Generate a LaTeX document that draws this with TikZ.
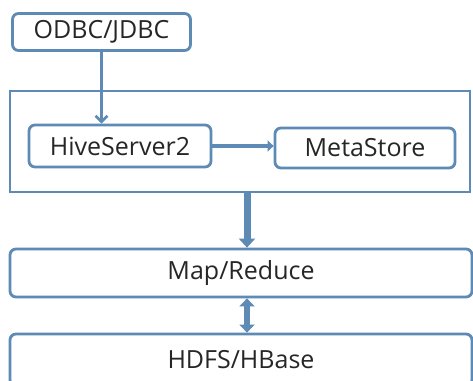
\documentclass[tikz,border=0pt]{standalone}
\usepackage{fontspec}
\setmainfont{Open Sans}
\usetikzlibrary{arrows.meta}
\definecolor{hiveBlue}{HTML}{5E8AB6}

\begin{document}
\begin{tikzpicture}[x=1pt, y=-1pt,
    block/.style={draw=hiveBlue, line width=2.8pt, rounded corners=6pt, fill=white,
        inner sep=0pt, text=black!85, font=\fontsize{25}{29}\selectfont},
    frame/.style={draw=hiveBlue, line width=2pt},
    link/.style={draw=hiveBlue, line width=2.6pt, -{Straight Barb[length=6pt, width=12pt]}},
    flow/.style={draw=hiveBlue, line width=4.5pt, -{Triangle[length=6pt, width=11pt]}},
    bigflow/.style={draw=hiveBlue, line width=7pt, -{Triangle[length=9pt, width=16pt]}},
    bothflow/.style={draw=hiveBlue, line width=6.5pt,
        {Triangle[length=8pt, width=15pt]}-{Triangle[length=8pt, width=15pt]}}]
    \useasboundingbox (0,0) rectangle (473,380);
    \clip (0,0) rectangle (473,380);
    \fill[white] (0,0) rectangle (473,380);
    % client and server
    \node[block, minimum width=178, minimum height=37] (odbc) at (101.5,32) {ODBC/JDBC};
    \node[frame, minimum width=460, minimum height=101] (server) at (240,141.5) {};
    \node[block, minimum width=182, minimum height=42] (hive) at (120,146) {HiveServer2};
    \node[block, minimum width=180, minimum height=40] (meta) at (365,148) {MetaStore};
    % execution and storage
    \node[block, minimum width=462, minimum height=48] (mapred) at (241,273) {Map/Reduce};
    \node[block, minimum width=462, minimum height=52] (hdfs) at (241,360) {HDFS/HBase};
    % arrows
    \draw[link] (odbc.south) -- (odbc.south |- hive.north);
    \draw[flow] (hive.east) -- (hive.east -| meta.west);
    \draw[bigflow] ([xshift=7]server.south) -- ([xshift=6]mapred.north);
    \draw[bothflow] ([xshift=6]mapred.south) -- ([xshift=6]hdfs.north);
\end{tikzpicture}
\end{document}
